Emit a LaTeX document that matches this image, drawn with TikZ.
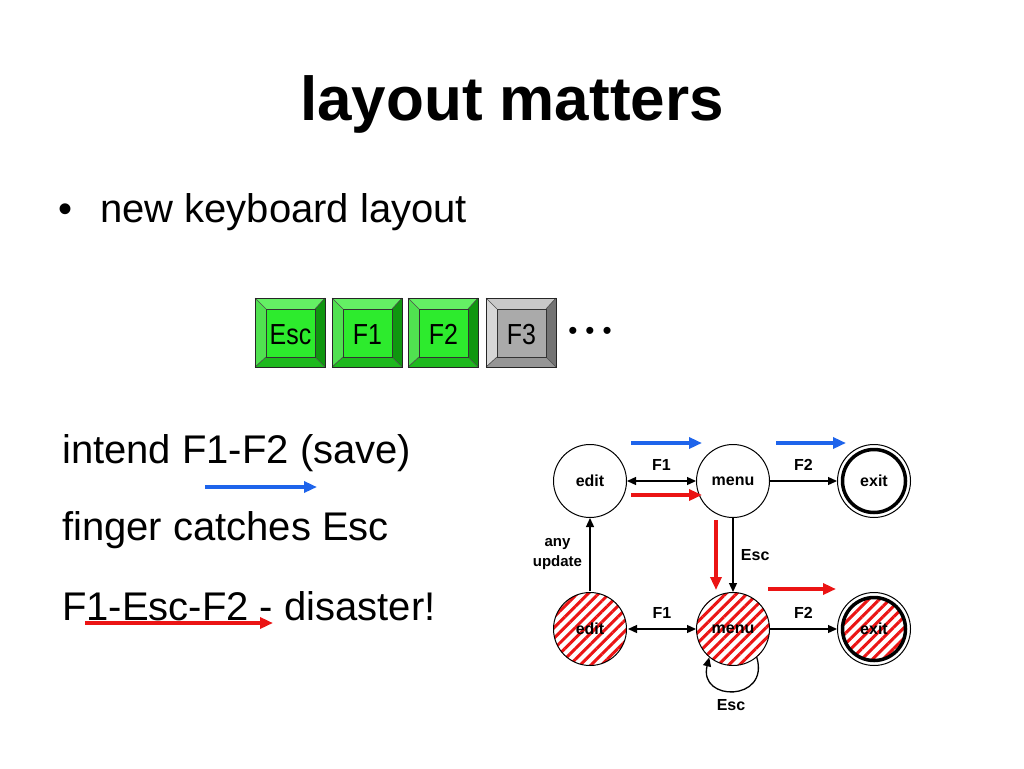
\documentclass[tikz,border=0pt]{standalone}
\usepackage{fontspec}
\setmainfont{Liberation Sans}
\usetikzlibrary{arrows.meta,patterns.meta}
\definecolor{bluea}{RGB}{30,100,235}
\definecolor{reda}{RGB}{235,20,20}
\definecolor{gface}{RGB}{45,235,45}
\definecolor{gtop}{RGB}{100,240,100}
\definecolor{gleft}{RGB}{80,225,80}
\definecolor{gright}{RGB}{15,150,15}
\definecolor{gbot}{RGB}{30,185,30}
\definecolor{yface}{RGB}{170,170,170}
\definecolor{ytop}{RGB}{200,200,200}
\definecolor{yleft}{RGB}{215,215,215}
\definecolor{yright}{RGB}{115,115,115}
\definecolor{ybot}{RGB}{150,150,150}
\tikzset{
  state/.style={circle,draw,line width=1pt,minimum size=73pt,inner sep=0pt,font=\bfseries\fontsize{16}{18}\selectfont},
  hatched/.style={preaction={fill=white},pattern={Lines[angle=45,distance=7.5pt,line width=3pt]},pattern color=reda},
  lbl/.style={font=\bfseries\fontsize{16}{19}\selectfont,align=center},
  trans/.style={line width=1.3pt,-{Triangle[length=9pt,width=8pt]}},
  transboth/.style={line width=1.3pt,{Triangle[length=9pt,width=8pt]}-{Triangle[length=9pt,width=8pt]}},
  hint/.style={line width=3.5pt,-{Triangle[length=13pt,width=11pt]}},
  bigtext/.style={anchor=base west,inner sep=0pt,font=\fontsize{40}{48}\selectfont},
  keylabel/.style={anchor=base,inner sep=0pt,font=\fontsize{29}{34}\selectfont}
}
\begin{document}
\begin{tikzpicture}[x=1pt,y=-1pt]
\useasboundingbox[fill=white] (0,0) rectangle (1024,768);

% title
\node[anchor=base,inner sep=0pt,font=\bfseries\fontsize{62}{70}\selectfont] (title) at (512,120) {layout matters};
\node[bigtext] (bul) at (58,222) {•};
\node[bigtext] (b1) at (100,222) {new keyboard layout};

% keys
\foreach \nm/\x/\lab/\fc/\tc/\lc/\rc/\bc in {kesc/255/Esc/gface/gtop/gleft/gright/gbot, kfa/332/F1/gface/gtop/gleft/gright/gbot, kfb/408/F2/gface/gtop/gleft/gright/gbot, kfc/486/F3/yface/ytop/yleft/yright/ybot}{
  \pgfmathsetmacro\xa{\x+70}
  \pgfmathsetmacro\xb{\x+11}
  \pgfmathsetmacro\xc{\x+60}
  \fill[\fc] (\xb,309) rectangle (\xc,357);
  \fill[\tc] (\x,298) -- (\xa,298) -- (\xc,309) -- (\xb,309) -- cycle;
  \fill[\lc] (\x,298) -- (\xb,309) -- (\xb,357) -- (\x,367) -- cycle;
  \fill[\rc] (\xa,298) -- (\xa,367) -- (\xc,357) -- (\xc,309) -- cycle;
  \fill[\bc] (\x,367) -- (\xa,367) -- (\xc,357) -- (\xb,357) -- cycle;
  \draw[line width=0.6pt,black!70] (\x,298) -- (\xb,309) (\xa,298) -- (\xc,309) (\x,367) -- (\xb,357) (\xa,367) -- (\xc,357);
  \draw[line width=0.7pt,black!80] (\xb,309) rectangle (\xc,357);
  \draw[line width=0.8pt,black!85] (\x,298) rectangle (\xa,367);
  \node[keylabel] (\nm) at ({\x+35.5},344) {\scalebox{0.86}[1]{\lab}};
}
\node[inner sep=0pt,font=\fontsize{26}{30}\selectfont] (dots) at (590,333) {•\hspace{8pt}•\hspace{8pt}•};

% left texts
\node[bigtext] (t1) at (62,463) {intend F1-F2 (save)};
\node[bigtext] (t2) at (62,540) {finger catches Esc};
\node[bigtext] (t3) at (62,620) {F1-Esc-F2 - disaster!};
\coordinate (ba1) at (205,487);
\coordinate (ba2) at (317,487);
\coordinate (ra1) at (85,623);
\coordinate (ra2) at (273,623);
\draw[hint,bluea] (ba1) -- (ba2);
\draw[hint,reda] (ra1) -- (ra2);

% state diagram
\node[state] (edit1) at (590,481) {edit};
\node[state] (menu1) at (733,481) {menu};
\node[state] (exit1) at (874,481) {exit};
\draw[line width=3.5pt] (exit1.center) circle (31.5);
\node[state,hatched] (edit2) at (590,629) {edit};
\node[state,hatched] (menu2) at (733,629) {menu};
\node[state] (exit2) at (874,629) {};
\draw[line width=3.5pt,hatched] (exit2.center) circle (31.5);
\node[font=\bfseries\fontsize{16}{18}\selectfont,inner sep=0pt] (exit2t) at (exit2.center) {exit};

\draw[transboth] (edit1) -- node[lbl,above=7pt] (lf1a) {F1} (menu1);
\draw[trans] (menu1) -- node[lbl,above=7pt] (lf2a) {F2} (exit1);
\draw[transboth] (edit2) -- node[lbl,above=7pt] (lf1b) {F1} (menu2);
\draw[trans] (menu2) -- node[lbl,above=7pt] (lf2b) {F2} (exit2);
\draw[trans] (edit2) -- node[lbl,left=4pt,font=\bfseries\fontsize{15}{20}\selectfont] (lany) {any\\update} (edit1);
\draw[trans] (menu1) -- node[lbl,right=4pt,pos=0.5] (lesc) {Esc} (menu2);
\draw[trans] (menu2.310) .. controls (770,702) and (698,702) .. (menu2.230);
\node[lbl] (lesc2) at (731,705) {Esc};

% hint arrows in diagram
\coordinate (h1a) at (631,443); \coordinate (h1b) at (702,443);
\coordinate (h2a) at (776,443); \coordinate (h2b) at (846,443);
\coordinate (h3a) at (631,495); \coordinate (h3b) at (702,495);
\coordinate (h4a) at (716,520); \coordinate (h4b) at (716,590);
\coordinate (h5a) at (768,589); \coordinate (h5b) at (836,589);
\draw[hint,bluea] (h1a) -- (h1b);
\draw[hint,bluea] (h2a) -- (h2b);
\draw[hint,reda] (h3a) -- (h3b);
\draw[hint,reda] (h4a) -- (h4b);
\draw[hint,reda] (h5a) -- (h5b);
\end{tikzpicture}
\end{document}
